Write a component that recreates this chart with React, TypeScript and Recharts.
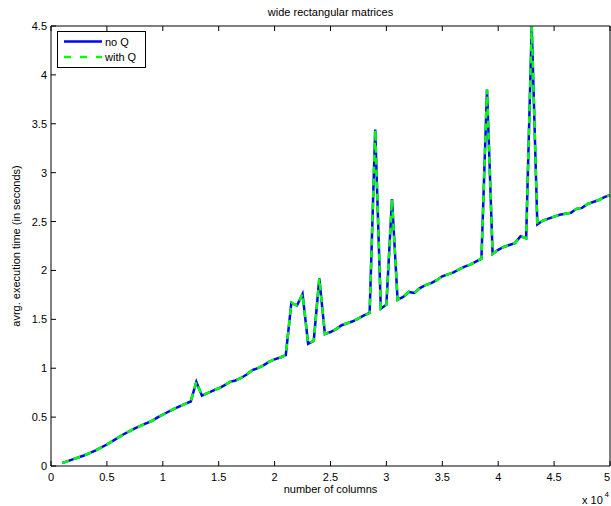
import React from 'react';
import { LineChart, Line, XAxis, YAxis } from 'recharts';

// number of columns (x axis is shown in units of 10^4)
const columns = [
  1000, 1500, 2000, 2500, 3000, 3500, 4000, 4500, 5000, 5500,
  6000, 6500, 7000, 7500, 8000, 8500, 9000, 9500, 10000, 10500,
  11000, 11500, 12000, 12500, 13000, 13500, 14000, 14500, 15000, 15500,
  16000, 16500, 17000, 17500, 18000, 18500, 19000, 19500, 20000, 20500,
  21000, 21500, 22000, 22500, 23000, 23500, 24000, 24500, 25000, 25500,
  26000, 26500, 27000, 27500, 28000, 28500, 29000, 29500, 30000, 30500,
  31000, 31500, 32000, 32500, 33000, 33500, 34000, 34500, 35000, 35500,
  36000, 36500, 37000, 37500, 38000, 38500, 39000, 39500, 40000, 40500,
  41000, 41500, 42000, 42500, 43000, 43500, 44000, 44500, 45000, 45500,
  46000, 46500, 47000, 47500, 48000, 48500, 49000, 49500, 50000,
];

// avrg. execution time in seconds
const noQ = [
  0.03, 0.05, 0.07, 0.09, 0.11, 0.135, 0.16, 0.19, 0.22, 0.255,
  0.29, 0.325, 0.355, 0.385, 0.41, 0.435, 0.46, 0.495, 0.525, 0.555,
  0.585, 0.61, 0.635, 0.66, 0.86, 0.72, 0.745, 0.77, 0.795, 0.825,
  0.86, 0.875, 0.9, 0.935, 0.98, 1.0, 1.03, 1.065, 1.09, 1.11,
  1.135, 1.67, 1.64, 1.76, 1.25, 1.28, 1.92, 1.35, 1.37, 1.4,
  1.44, 1.46, 1.48, 1.51, 1.54, 1.565, 3.44, 1.61, 1.65, 2.73,
  1.7, 1.73, 1.78, 1.77, 1.82, 1.85, 1.87, 1.9, 1.94, 1.96,
  1.98, 2.01, 2.04, 2.06, 2.09, 2.12, 3.85, 2.17, 2.21, 2.24,
  2.26, 2.28, 2.35, 2.33, 4.5, 2.47, 2.51, 2.53, 2.55, 2.57,
  2.58, 2.59, 2.63, 2.64, 2.68, 2.7, 2.72, 2.75, 2.77,
];

// the two curves lie on top of each other in the picture
const withQ = [...noQ];

const xTicks = [0, 5000, 10000, 15000, 20000, 25000, 30000, 35000, 40000, 45000, 50000];
const yTicks = [0, 0.5, 1, 1.5, 2, 2.5, 3, 3.5, 4, 4.5];

const data = columns.map((c, i) => ({ cols: c, noQ: noQ[i], withQ: withQ[i] }));

const FONT = '"Liberation Sans", Arial, Helvetica, sans-serif';
const TICK_LEN = 5;

function BottomTick({ x, y, payload }: any) {
  // last label sits on the figure edge, nudge it in a bit
  const tx = payload.value === 50000 ? x - 3 : x;
  return (
    <g>
      <line x1={x} x2={x} y1={y} y2={y - TICK_LEN} stroke="#000" />
      <text x={tx} y={y + 15} textAnchor="middle" fontSize={11} fontFamily={FONT} fill="#000">
        {payload.value / 10000}
      </text>
    </g>
  );
}

function LeftTick({ x, y, payload }: any) {
  return (
    <g>
      <line x1={x} x2={x + TICK_LEN} y1={y} y2={y} stroke="#000" />
      <text x={x - 4} y={y + 4} textAnchor="end" fontSize={11} fontFamily={FONT} fill="#000">
        {payload.value}
      </text>
    </g>
  );
}

function TopTick({ x, y }: any) {
  return <line x1={x} x2={x} y1={y} y2={y + TICK_LEN} stroke="#000" />;
}

function RightTick({ x, y }: any) {
  return <line x1={x} x2={x - TICK_LEN} y1={y} y2={y} stroke="#000" />;
}

export default function App() {
  return (
    <div style={{ position: 'absolute', left: 0, top: 0, width: 611, height: 506, background: '#fff' }}>
      <LineChart width={611} height={506} data={data} margin={{ top: 25, right: 0, bottom: 0, left: 50 }}>
        <XAxis
          dataKey="cols"
          type="number"
          domain={[0, 50000]}
          ticks={xTicks}
          tickSize={0}
          tickMargin={0}
          height={40}
          tick={BottomTick}
          axisLine={{ stroke: '#000' }}
          interval={0}
        />
        <XAxis
          xAxisId="top"
          orientation="top"
          dataKey="cols"
          type="number"
          domain={[0, 50000]}
          ticks={xTicks}
          tickSize={0}
          tickMargin={0}
          height={1}
          tick={TopTick}
          axisLine={{ stroke: '#000' }}
          interval={0}
        />
        <YAxis
          type="number"
          domain={[0, 4.5]}
          ticks={yTicks}
          allowDataOverflow
          tickSize={0}
          tickMargin={0}
          width={1}
          tick={LeftTick}
          axisLine={{ stroke: '#000' }}
          interval={0}
        />
        <YAxis
          yAxisId="right"
          orientation="right"
          type="number"
          domain={[0, 4.5]}
          ticks={yTicks}
          tickSize={0}
          tickMargin={0}
          width={1}
          tick={RightTick}
          axisLine={{ stroke: '#000' }}
          interval={0}
        />
        <Line
          dataKey="noQ"
          type="linear"
          stroke="#0000ff"
          strokeWidth={2.5}
          dot={false}
          isAnimationActive={false}
        />
        <Line
          dataKey="withQ"
          type="linear"
          stroke="#00ff00"
          strokeWidth={2.5}
          strokeDasharray="7 5"
          dot={false}
          isAnimationActive={false}
        />
      </LineChart>
      <svg
        width={611}
        height={506}
        style={{ position: 'absolute', left: 0, top: 0, pointerEvents: 'none' }}
        fontFamily={FONT}
      >
        <text x={330.5} y={15.5} textAnchor="middle" fontSize={11}>wide rectangular matrices</text>
        <text x={330.5} y={493} textAnchor="middle" fontSize={11}>number of columns</text>
        <text transform="translate(20,246) rotate(-90)" textAnchor="middle" fontSize={11}>
          avrg. execution time (in seconds)
        </text>
        <text x={582} y={504} fontSize={11}>x 10</text>
        <text x={604.5} y={496.5} fontSize={8}>4</text>
        {/* legend box */}
        <rect x={57.5} y={31.5} width={88} height={36} fill="#fff" stroke="#000" />
        <line x1={64} x2={102} y1={41.5} y2={41.5} stroke="#0000ff" strokeWidth={2.5} />
        <text x={105} y={45.5} fontSize={11}>no Q</text>
        <line x1={64} x2={102} y1={57} y2={57} stroke="#00ff00" strokeWidth={2.5} strokeDasharray="7 9" />
        <text x={105} y={61} fontSize={11}>with Q</text>
      </svg>
    </div>
  );
}
